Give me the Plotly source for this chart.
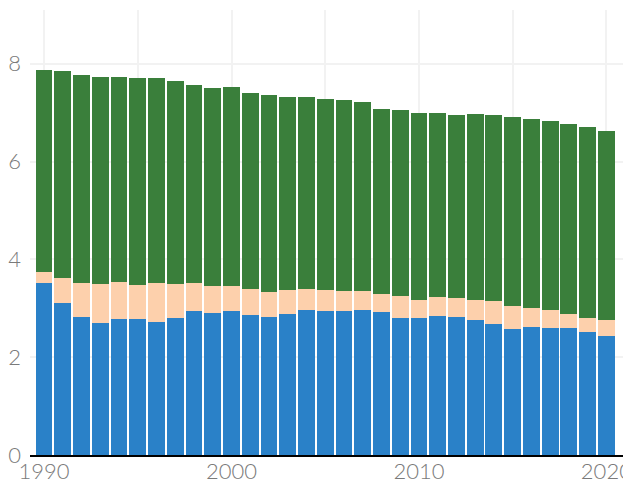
import plotly.graph_objects as go

years = list(range(1990, 2021))
blue = [3.52, 3.11, 2.83, 2.70, 2.78, 2.78, 2.72, 2.80, 2.95, 2.91, 2.95, 2.87, 2.83, 2.89, 2.97,
        2.95, 2.95, 2.97, 2.93, 2.80, 2.80, 2.85, 2.83, 2.76, 2.68, 2.58, 2.62, 2.60, 2.60, 2.52, 2.44]
peach = [0.23, 0.51, 0.69, 0.80, 0.76, 0.70, 0.80, 0.70, 0.57, 0.55, 0.51, 0.53, 0.51, 0.49, 0.43,
         0.43, 0.41, 0.39, 0.37, 0.45, 0.37, 0.38, 0.38, 0.41, 0.47, 0.47, 0.39, 0.37, 0.29, 0.28, 0.32]
green = [4.13, 4.24, 4.26, 4.24, 4.18, 4.22, 4.18, 4.14, 4.05, 4.05, 4.07, 4.01, 4.03, 3.95, 3.93,
         3.89, 3.89, 3.85, 3.78, 3.81, 3.83, 3.77, 3.75, 3.81, 3.81, 3.87, 3.87, 3.85, 3.87, 3.91, 3.87]

fig = go.Figure()
for vals, col in [(blue, "#2a81c8"), (peach, "#fdd0ac"), (green, "#3a7f3b")]:
    fig.add_trace(go.Bar(x=years, y=vals, marker=dict(color=col, line=dict(width=0)), showlegend=False))

# page body has an 8px default margin, so the figure is offset to compensate
fig.update_layout(
    barmode="stack", bargap=0.1,
    width=631, height=481,
    margin=dict(l=22, r=12, t=2, b=34, autoexpand=False),
    paper_bgcolor="white", plot_bgcolor="white",
    font=dict(family="Lato", size=22, color="#7a7a7a", weight=300),
)
fig.update_xaxes(
    range=[1989.25, 2021.1], tickmode="linear", tick0=1990, dtick=10,
    showgrid=True, gridcolor="#f2f2f2", gridwidth=2,
    minor=dict(tick0=1990, dtick=5, showgrid=True, gridcolor="#f2f2f2", gridwidth=2),
    showline=True, linecolor="black", linewidth=1.5,
    ticks="", zeroline=False, automargin=False, ticklabelstandoff=-4,
    ticklabeloverflow="allow",
)
fig.update_yaxes(
    range=[0, 9.1], tickmode="linear", tick0=0, dtick=2,
    showgrid=True, gridcolor="#f2f2f2", gridwidth=2,
    zeroline=False, showline=False, ticks="", ticklabelstandoff=8, automargin=False,
)
fig.write_html("out.html")
